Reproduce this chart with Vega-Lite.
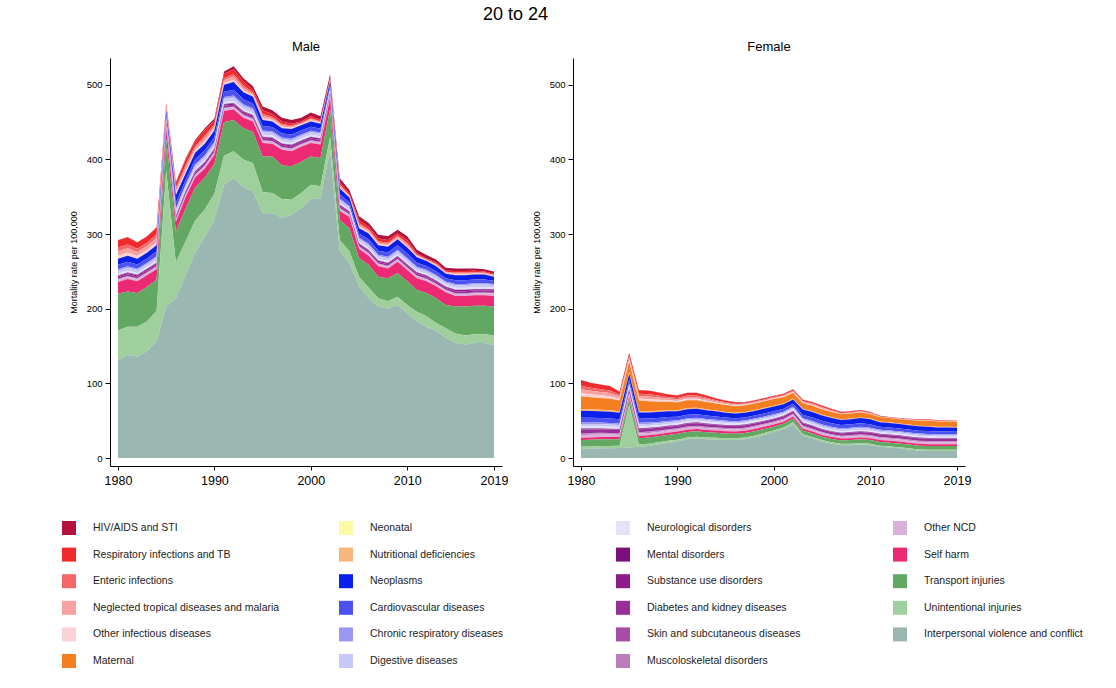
{
  "$schema": "https://vega.github.io/schema/vega-lite/v6.json",
  "description": "Mortality rate per 100,000 by cause, ages 20 to 24, male and female, 1980-2019",
  "padding": {"left": 62, "top": 6, "right": 10, "bottom": 10},
  "title": {"text": "20 to 24", "fontSize": 18, "fontWeight": "normal", "font": "Liberation Sans", "color": "#000", "anchor": "middle", "offset": 17, "dx": -57},
  "config": {
    "view": {"stroke": null},
    "font": "Liberation Sans",
    "axis": {"domainColor": "#000", "tickColor": "#000", "labelColor": "#000", "titleColor": "#000", "grid": false, "labelFont": "Liberation Sans", "titleFont": "Liberation Sans"}
  },
  "datasets": {
    "causes": [
      {"code": "a", "cause": "HIV/AIDS and STI", "ord": 23},
      {"code": "b", "cause": "Respiratory infections and TB", "ord": 22},
      {"code": "c", "cause": "Enteric infections", "ord": 21},
      {"code": "d", "cause": "Neglected tropical diseases and malaria", "ord": 20},
      {"code": "e", "cause": "Other infectious diseases", "ord": 19},
      {"code": "f", "cause": "Maternal", "ord": 18},
      {"code": "h", "cause": "Nutritional deficiencies", "ord": 16},
      {"code": "i", "cause": "Neoplasms", "ord": 15},
      {"code": "j", "cause": "Cardiovascular diseases", "ord": 14},
      {"code": "k", "cause": "Chronic respiratory diseases", "ord": 13},
      {"code": "l", "cause": "Digestive diseases", "ord": 12},
      {"code": "m", "cause": "Neurological disorders", "ord": 11},
      {"code": "n", "cause": "Mental disorders", "ord": 10},
      {"code": "o", "cause": "Substance use disorders", "ord": 9},
      {"code": "p", "cause": "Diabetes and kidney diseases", "ord": 8},
      {"code": "q", "cause": "Skin and subcutaneous diseases", "ord": 7},
      {"code": "r", "cause": "Muscoloskeletal disorders", "ord": 6},
      {"code": "s", "cause": "Other NCD", "ord": 5},
      {"code": "t", "cause": "Self harm", "ord": 4},
      {"code": "u", "cause": "Transport injuries", "ord": 3},
      {"code": "v", "cause": "Unintentional injuries", "ord": 2},
      {"code": "w", "cause": "Interpersonal violence and conflict", "ord": 1}
    ]
  },
  "data": {
    "values": [
      {"year":1980,"sex":"Male","a":0.2,"b":9.7,"c":4.9,"d":6.1,"e":3.6,"f":0,"h":0.5,"i":8,"j":6,"k":2,"l":4,"m":2.4,"n":0.6,"o":1.7,"p":2.4,"q":0.3,"r":0.7,"s":2.9,"t":16,"u":49,"v":40,"w":131},
      {"year":1981,"sex":"Male","a":0.2,"b":9.7,"c":4.9,"d":6.1,"e":3.6,"f":0,"h":0.5,"i":8,"j":6,"k":2,"l":4,"m":2.4,"n":0.6,"o":1.7,"p":2.4,"q":0.3,"r":0.7,"s":2.9,"t":17,"u":47,"v":38,"w":138},
      {"year":1982,"sex":"Male","a":0.2,"b":8.5,"c":4.3,"d":5.3,"e":3.2,"f":0,"h":0.5,"i":7.6,"j":5.7,"k":1.9,"l":3.8,"m":2.4,"n":0.6,"o":1.7,"p":2.4,"q":0.3,"r":0.7,"s":2.9,"t":16,"u":45,"v":40,"w":136},
      {"year":1983,"sex":"Male","a":0.2,"b":8.5,"c":4.3,"d":5.3,"e":3.2,"f":0,"h":0.5,"i":7.6,"j":5.7,"k":1.9,"l":3.8,"m":2.4,"n":0.6,"o":1.7,"p":2.4,"q":0.3,"r":0.7,"s":2.9,"t":16,"u":46,"v":40,"w":143},
      {"year":1984,"sex":"Male","a":0.2,"b":9.3,"c":4.7,"d":5.8,"e":3.5,"f":0,"h":0.5,"i":8.4,"j":6.3,"k":2.1,"l":4.2,"m":2.4,"n":0.6,"o":1.7,"p":2.4,"q":0.3,"r":0.7,"s":2.9,"t":14,"u":42,"v":41,"w":156},
      {"year":1985,"sex":"Male","a":0.5,"b":3.6,"c":1.8,"d":2.3,"e":1.3,"f":0,"h":0.5,"i":5.6,"j":4.2,"k":1.4,"l":2.8,"m":2.2,"n":0.5,"o":1.5,"p":2.2,"q":0.3,"r":0.6,"s":2.7,"t":14,"u":43,"v":182,"w":203},
      {"year":1986,"sex":"Male","a":1,"b":6.6,"c":3.3,"d":4.1,"e":2.5,"f":0,"h":0.5,"i":10,"j":7.5,"k":2.5,"l":5,"m":2.4,"n":0.6,"o":1.7,"p":2.4,"q":0.3,"r":0.7,"s":2.9,"t":12,"u":42,"v":48,"w":214},
      {"year":1987,"sex":"Male","a":1.5,"b":7.2,"c":3.6,"d":4.5,"e":2.7,"f":0,"h":0.5,"i":8.4,"j":6.3,"k":2.1,"l":4.2,"m":2.4,"n":0.6,"o":1.7,"p":2.4,"q":0.3,"r":0.7,"s":2.9,"t":15,"u":44,"v":45,"w":245},
      {"year":1988,"sex":"Male","a":2,"b":5.8,"c":2.9,"d":3.6,"e":2.2,"f":0,"h":0.5,"i":8.8,"j":6.6,"k":2.2,"l":4.4,"m":2.4,"n":0.6,"o":1.7,"p":2.4,"q":0.3,"r":0.7,"s":2.9,"t":14,"u":44,"v":43,"w":275},
      {"year":1989,"sex":"Male","a":2.5,"b":7.2,"c":3.6,"d":4.5,"e":2.7,"f":0,"h":0.5,"i":8.8,"j":6.6,"k":2.2,"l":4.4,"m":2.4,"n":0.6,"o":1.7,"p":2.4,"q":0.3,"r":0.7,"s":2.9,"t":12,"u":43,"v":37,"w":296},
      {"year":1990,"sex":"Male","a":3,"b":5,"c":2.5,"d":3.1,"e":1.9,"f":0,"h":0.5,"i":8.8,"j":6.6,"k":2.2,"l":4.4,"m":2.4,"n":0.6,"o":1.7,"p":2.4,"q":0.3,"r":0.7,"s":2.9,"t":12,"u":40,"v":34,"w":320},
      {"year":1991,"sex":"Male","a":3.5,"b":5.6,"c":2.8,"d":3.5,"e":2.1,"f":0,"h":0.5,"i":9.2,"j":6.9,"k":2.3,"l":4.6,"m":2.6,"n":0.6,"o":1.8,"p":2.6,"q":0.4,"r":0.7,"s":3.3,"t":15,"u":45,"v":39,"w":366},
      {"year":1992,"sex":"Male","a":4,"b":6.6,"c":3.3,"d":4.1,"e":2.5,"f":0,"h":0.5,"i":10.4,"j":7.8,"k":2.6,"l":5.2,"m":2.4,"n":0.6,"o":1.7,"p":2.4,"q":0.3,"r":0.7,"s":2.9,"t":14,"u":42,"v":36,"w":375},
      {"year":1993,"sex":"Male","a":4,"b":5.8,"c":2.9,"d":3.6,"e":2.2,"f":0,"h":0.5,"i":9.2,"j":6.9,"k":2.3,"l":4.6,"m":2.4,"n":0.6,"o":1.7,"p":2.4,"q":0.3,"r":0.7,"s":2.9,"t":14,"u":42,"v":37,"w":363},
      {"year":1994,"sex":"Male","a":4.5,"b":3.6,"c":1.8,"d":2.3,"e":1.3,"f":0,"h":0.5,"i":8.8,"j":6.6,"k":2.2,"l":4.4,"m":2.4,"n":0.6,"o":1.7,"p":2.4,"q":0.3,"r":0.7,"s":2.9,"t":14,"u":42,"v":38,"w":357},
      {"year":1995,"sex":"Male","a":5,"b":5,"c":2.5,"d":3.1,"e":1.9,"f":0,"h":0.5,"i":8,"j":6,"k":2,"l":4,"m":2.4,"n":0.6,"o":1.7,"p":2.4,"q":0.3,"r":0.7,"s":2.9,"t":18,"u":48,"v":28,"w":328},
      {"year":1996,"sex":"Male","a":5,"b":3.8,"c":1.9,"d":2.4,"e":1.4,"f":0,"h":0.5,"i":7.6,"j":5.7,"k":1.9,"l":3.8,"m":2.4,"n":0.6,"o":1.7,"p":2.4,"q":0.3,"r":0.7,"s":2.9,"t":17,"u":49,"v":27,"w":328},
      {"year":1997,"sex":"Male","a":5,"b":3.4,"c":1.7,"d":2.1,"e":1.3,"f":0,"h":0.5,"i":7.2,"j":5.4,"k":1.8,"l":3.6,"m":2.4,"n":0.6,"o":1.7,"p":2.4,"q":0.3,"r":0.7,"s":2.9,"t":21,"u":45,"v":25,"w":322},
      {"year":1998,"sex":"Male","a":5,"b":2.6,"c":1.3,"d":1.6,"e":1,"f":0,"h":0.5,"i":7.6,"j":5.7,"k":1.9,"l":3.8,"m":2.4,"n":0.6,"o":1.7,"p":2.4,"q":0.3,"r":0.7,"s":2.9,"t":20,"u":45,"v":20,"w":326},
      {"year":1999,"sex":"Male","a":5,"b":1.8,"c":0.9,"d":1.1,"e":0.7,"f":0,"h":0.5,"i":7.2,"j":5.4,"k":1.8,"l":3.6,"m":2.4,"n":0.6,"o":1.7,"p":2.4,"q":0.3,"r":0.7,"s":2.9,"t":20,"u":42,"v":20,"w":335},
      {"year":2000,"sex":"Male","a":5,"b":2.6,"c":1.3,"d":1.6,"e":1,"f":0,"h":0.5,"i":7.2,"j":5.4,"k":1.8,"l":3.6,"m":2.4,"n":0.6,"o":1.7,"p":2.4,"q":0.3,"r":0.7,"s":2.9,"t":18,"u":38,"v":19,"w":347},
      {"year":2001,"sex":"Male","a":5,"b":1.8,"c":0.9,"d":1.1,"e":0.7,"f":0,"h":0.5,"i":6.8,"j":5.1,"k":1.7,"l":3.4,"m":2.4,"n":0.6,"o":1.7,"p":2.4,"q":0.3,"r":0.7,"s":2.9,"t":18,"u":38,"v":16,"w":348},
      {"year":2002,"sex":"Male","a":5,"b":1.4,"c":0.7,"d":0.9,"e":0.5,"f":0,"h":0.5,"i":5.2,"j":3.9,"k":1.3,"l":2.6,"m":2.2,"n":0.5,"o":1.5,"p":2.2,"q":0.3,"r":0.6,"s":2.7,"t":14,"u":38,"v":17,"w":413},
      {"year":2003,"sex":"Male","a":5,"b":3.4,"c":1.7,"d":2.1,"e":1.3,"f":0,"h":0.5,"i":7.6,"j":5.7,"k":1.9,"l":3.8,"m":2.4,"n":0.6,"o":1.7,"p":2.4,"q":0.3,"r":0.7,"s":2.9,"t":12,"u":27,"v":15,"w":277},
      {"year":2004,"sex":"Male","a":5,"b":1.8,"c":0.9,"d":1.1,"e":0.7,"f":0,"h":0.5,"i":6.4,"j":4.8,"k":1.6,"l":3.2,"m":2.2,"n":0.5,"o":1.5,"p":2.2,"q":0.3,"r":0.6,"s":2.7,"t":15,"u":31,"v":16,"w":261},
      {"year":2005,"sex":"Male","a":5,"b":4.2,"c":2.1,"d":2.6,"e":1.6,"f":0,"h":0.5,"i":7.2,"j":5.4,"k":1.8,"l":3.6,"m":2.2,"n":0.5,"o":1.5,"p":2.2,"q":0.3,"r":0.6,"s":2.7,"t":12,"u":25,"v":13,"w":230},
      {"year":2006,"sex":"Male","a":5,"b":3.4,"c":1.7,"d":2.1,"e":1.3,"f":0,"h":0.5,"i":8,"j":6,"k":2,"l":4,"m":2.2,"n":0.5,"o":1.5,"p":2.2,"q":0.3,"r":0.6,"s":2.7,"t":12,"u":31,"v":14,"w":214},
      {"year":2007,"sex":"Male","a":5,"b":3.4,"c":1.7,"d":2.1,"e":1.3,"f":0,"h":0.5,"i":7.2,"j":5.4,"k":1.8,"l":3.6,"m":2.2,"n":0.5,"o":1.5,"p":2.2,"q":0.3,"r":0.6,"s":2.7,"t":14,"u":29,"v":11,"w":203},
      {"year":2008,"sex":"Male","a":5,"b":3.4,"c":1.7,"d":2.1,"e":1.3,"f":0,"h":0.5,"i":7.6,"j":5.7,"k":1.9,"l":3.8,"m":2.2,"n":0.5,"o":1.5,"p":2.2,"q":0.3,"r":0.6,"s":2.7,"t":13,"u":31,"v":10,"w":200},
      {"year":2009,"sex":"Male","a":5,"b":3,"c":1.5,"d":1.9,"e":1.1,"f":0,"h":0.5,"i":8,"j":6,"k":2,"l":4,"m":2.2,"n":0.5,"o":1.5,"p":2.2,"q":0.3,"r":0.6,"s":2.7,"t":15,"u":32,"v":11,"w":205},
      {"year":2010,"sex":"Male","a":5,"b":3.8,"c":1.9,"d":2.4,"e":1.4,"f":0,"h":0.5,"i":8,"j":6,"k":2,"l":4,"m":2.2,"n":0.5,"o":1.5,"p":2.2,"q":0.3,"r":0.6,"s":2.7,"t":15,"u":32,"v":11,"w":194},
      {"year":2011,"sex":"Male","a":4.5,"b":2,"c":1,"d":1.3,"e":0.7,"f":0,"h":0.5,"i":7.2,"j":5.4,"k":1.8,"l":3.6,"m":2.2,"n":0.5,"o":1.5,"p":2.2,"q":0.3,"r":0.6,"s":2.7,"t":16,"u":29,"v":13,"w":183},
      {"year":2012,"sex":"Male","a":4.5,"b":1.2,"c":0.6,"d":0.8,"e":0.4,"f":0,"h":0.5,"i":6.8,"j":5.1,"k":1.7,"l":3.4,"m":2.2,"n":0.5,"o":1.5,"p":2.2,"q":0.3,"r":0.6,"s":2.7,"t":16,"u":31,"v":14,"w":176},
      {"year":2013,"sex":"Male","a":4,"b":1.8,"c":0.9,"d":1.1,"e":0.7,"f":0,"h":0.5,"i":6.8,"j":5.1,"k":1.7,"l":3.4,"m":2.2,"n":0.5,"o":1.5,"p":2.2,"q":0.3,"r":0.6,"s":2.7,"t":16,"u":33,"v":11,"w":170},
      {"year":2014,"sex":"Male","a":4,"b":1.4,"c":0.7,"d":0.9,"e":0.5,"f":0,"h":0.5,"i":6,"j":4.5,"k":1.5,"l":3,"m":2.2,"n":0.5,"o":1.5,"p":2.2,"q":0.3,"r":0.6,"s":2.7,"t":17,"u":31,"v":13,"w":161},
      {"year":2015,"sex":"Male","a":3.5,"b":2,"c":1,"d":1.3,"e":0.7,"f":0,"h":0.5,"i":6.8,"j":5.1,"k":1.7,"l":3.4,"m":2.4,"n":0.6,"o":1.7,"p":2.4,"q":0.3,"r":0.7,"s":2.9,"t":14,"u":36,"v":13,"w":154},
      {"year":2016,"sex":"Male","a":3.5,"b":2,"c":1,"d":1.3,"e":0.7,"f":0,"h":0.5,"i":6.8,"j":5.1,"k":1.7,"l":3.4,"m":2.4,"n":0.6,"o":1.7,"p":2.4,"q":0.3,"r":0.7,"s":2.9,"t":14,"u":39,"v":12,"w":152},
      {"year":2017,"sex":"Male","a":3,"b":1.8,"c":0.9,"d":1.1,"e":0.7,"f":0,"h":0.5,"i":6.8,"j":5.1,"k":1.7,"l":3.4,"m":2.4,"n":0.6,"o":1.7,"p":2.4,"q":0.3,"r":0.7,"s":2.9,"t":14,"u":38,"v":12,"w":154},
      {"year":2018,"sex":"Male","a":3,"b":1.4,"c":0.7,"d":0.9,"e":0.5,"f":0,"h":0.5,"i":6.8,"j":5.1,"k":1.7,"l":3.4,"m":2.4,"n":0.6,"o":1.7,"p":2.4,"q":0.3,"r":0.7,"s":2.9,"t":14,"u":38,"v":12,"w":154},
      {"year":2019,"sex":"Male","a":3,"b":1.4,"c":0.7,"d":0.9,"e":0.5,"f":0,"h":0.5,"i":5.6,"j":4.2,"k":1.4,"l":2.8,"m":2.6,"n":0.6,"o":1.8,"p":2.6,"q":0.4,"r":0.7,"s":3.3,"t":14,"u":39,"v":13,"w":151},
      {"year":1980,"sex":"Female","a":0.1,"b":7.7,"c":4.4,"d":5.5,"e":4.3,"f":16.7,"h":2.3,"i":9.5,"j":6.3,"k":2.1,"l":3.1,"m":3.1,"n":0.8,"o":0.8,"p":4.7,"q":0.8,"r":1.5,"s":3.8,"t":3,"u":9,"v":3,"w":12},
      {"year":1981,"sex":"Female","a":0.1,"b":6.8,"c":3.9,"d":4.8,"e":3.9,"f":16.3,"h":2.2,"i":9.2,"j":6.2,"k":2,"l":3.1,"m":3,"n":0.8,"o":0.8,"p":4.5,"q":0.7,"r":1.5,"s":3.7,"t":3,"u":9,"v":3,"w":12.5},
      {"year":1982,"sex":"Female","a":0.1,"b":6.3,"c":3.6,"d":4.4,"e":3.6,"f":15.8,"h":2.2,"i":9,"j":6,"k":2,"l":3,"m":2.9,"n":0.7,"o":0.7,"p":4.4,"q":0.7,"r":1.5,"s":3.6,"t":3,"u":9,"v":3,"w":13},
      {"year":1983,"sex":"Female","a":0.1,"b":5.9,"c":3.4,"d":4.2,"e":3.4,"f":15.4,"h":2.1,"i":9,"j":6,"k":2,"l":3,"m":2.8,"n":0.7,"o":0.7,"p":4.2,"q":0.7,"r":1.4,"s":3.5,"t":3,"u":9,"v":3,"w":13},
      {"year":1984,"sex":"Female","a":0.1,"b":4.2,"c":2.4,"d":3,"e":2.3,"f":14.5,"h":2,"i":8.6,"j":5.7,"k":1.9,"l":2.8,"m":2.7,"n":0.7,"o":0.7,"p":4.1,"q":0.7,"r":1.3,"s":3.3,"t":3,"u":8.5,"v":3,"w":13.5},
      {"year":1985,"sex":"Female","a":0.1,"b":4.2,"c":2.4,"d":3,"e":2.3,"f":14.1,"h":1.9,"i":7.9,"j":5.2,"k":1.8,"l":2.6,"m":2.6,"n":0.7,"o":0.7,"p":3.9,"q":0.6,"r":1.3,"s":3.2,"t":3,"u":8.5,"v":57,"w":14},
      {"year":1986,"sex":"Female","a":0.1,"b":4.9,"c":2.8,"d":3.4,"e":2.8,"f":14.1,"h":1.9,"i":8.3,"j":5.6,"k":1.8,"l":2.8,"m":2.6,"n":0.7,"o":0.7,"p":3.9,"q":0.6,"r":1.3,"s":3.2,"t":3,"u":8.5,"v":3,"w":15},
      {"year":1987,"sex":"Female","a":0.1,"b":5,"c":2.9,"d":3.6,"e":2.9,"f":13.2,"h":1.8,"i":8.1,"j":5.4,"k":1.8,"l":2.7,"m":2.5,"n":0.6,"o":0.6,"p":3.8,"q":0.6,"r":1.3,"s":3.1,"t":3,"u":8.5,"v":3,"w":16},
      {"year":1988,"sex":"Female","a":0.1,"b":4.3,"c":2.5,"d":3.1,"e":2.5,"f":12.3,"h":1.7,"i":7.9,"j":5.2,"k":1.8,"l":2.6,"m":2.4,"n":0.6,"o":0.6,"p":3.6,"q":0.6,"r":1.2,"s":3,"t":3,"u":8,"v":3,"w":18},
      {"year":1989,"sex":"Female","a":0.2,"b":3.4,"c":2,"d":2.4,"e":2,"f":11.4,"h":1.6,"i":7.7,"j":5.1,"k":1.7,"l":2.5,"m":2.3,"n":0.6,"o":0.6,"p":3.5,"q":0.6,"r":1.1,"s":2.8,"t":3,"u":8,"v":3,"w":20},
      {"year":1990,"sex":"Female","a":0.3,"b":3.2,"c":1.8,"d":2.4,"e":1.8,"f":10.6,"h":1.4,"i":7.2,"j":4.8,"k":1.6,"l":2.4,"m":2.2,"n":0.6,"o":0.6,"p":3.3,"q":0.5,"r":1.1,"s":2.7,"t":3,"u":8,"v":2.5,"w":22},
      {"year":1991,"sex":"Female","a":0.3,"b":3.4,"c":1.9,"d":2.5,"e":1.9,"f":10.6,"h":1.4,"i":7.4,"j":5,"k":1.6,"l":2.5,"m":2.2,"n":0.6,"o":0.6,"p":3.3,"q":0.5,"r":1.1,"s":2.7,"t":3,"u":7.5,"v":2.5,"w":25},
      {"year":1992,"sex":"Female","a":0.3,"b":3.4,"c":1.9,"d":2.5,"e":1.9,"f":10.1,"h":1.4,"i":7.2,"j":4.8,"k":1.6,"l":2.4,"m":2.2,"n":0.6,"o":0.6,"p":3.3,"q":0.5,"r":1.1,"s":2.7,"t":3,"u":7.5,"v":2.5,"w":26},
      {"year":1993,"sex":"Female","a":0.3,"b":3,"c":1.7,"d":2.3,"e":1.7,"f":9.7,"h":1.3,"i":7,"j":4.6,"k":1.6,"l":2.3,"m":2.2,"n":0.6,"o":0.6,"p":3.3,"q":0.5,"r":1.1,"s":2.7,"t":3,"u":7,"v":2.5,"w":25},
      {"year":1994,"sex":"Female","a":0.4,"b":2.3,"c":1.3,"d":1.7,"e":1.3,"f":9.2,"h":1.3,"i":6.8,"j":4.5,"k":1.5,"l":2.2,"m":2.1,"n":0.5,"o":0.5,"p":3.2,"q":0.5,"r":1,"s":2.7,"t":3,"u":7,"v":2.5,"w":24.5},
      {"year":1995,"sex":"Female","a":0.4,"b":2,"c":1.1,"d":1.4,"e":1.1,"f":9.2,"h":1.3,"i":6.3,"j":4.2,"k":1.4,"l":2.1,"m":2.1,"n":0.5,"o":0.5,"p":3.2,"q":0.5,"r":1,"s":2.7,"t":3,"u":6.5,"v":2.5,"w":24},
      {"year":1996,"sex":"Female","a":0.4,"b":1.8,"c":1,"d":1.3,"e":1,"f":8.8,"h":1.2,"i":6.1,"j":4,"k":1.4,"l":2,"m":2.1,"n":0.5,"o":0.5,"p":3.2,"q":0.5,"r":1,"s":2.7,"t":3,"u":6,"v":2.5,"w":24},
      {"year":1997,"sex":"Female","a":0.5,"b":1.4,"c":0.8,"d":1,"e":0.8,"f":8.8,"h":1.2,"i":6.1,"j":4,"k":1.4,"l":2,"m":2.1,"n":0.5,"o":0.5,"p":3.2,"q":0.5,"r":1,"s":2.7,"t":3,"u":6,"v":2.5,"w":25},
      {"year":1998,"sex":"Female","a":0.5,"b":1.4,"c":0.8,"d":1,"e":0.8,"f":8.8,"h":1.2,"i":6.1,"j":4,"k":1.4,"l":2,"m":2.1,"n":0.5,"o":0.5,"p":3.2,"q":0.5,"r":1,"s":2.7,"t":3,"u":6,"v":2.5,"w":27.5},
      {"year":1999,"sex":"Female","a":0.5,"b":1.4,"c":0.8,"d":1,"e":0.8,"f":8.8,"h":1.2,"i":6.3,"j":4.2,"k":1.4,"l":2.1,"m":2,"n":0.5,"o":0.5,"p":3,"q":0.5,"r":1,"s":2.5,"t":3,"u":5.5,"v":2.5,"w":31},
      {"year":2000,"sex":"Female","a":0.5,"b":1.4,"c":0.8,"d":1,"e":0.8,"f":8.8,"h":1.2,"i":6.3,"j":4.2,"k":1.4,"l":2.1,"m":2,"n":0.5,"o":0.5,"p":3,"q":0.5,"r":1,"s":2.5,"t":3,"u":5,"v":2,"w":35},
      {"year":2001,"sex":"Female","a":0.5,"b":1.4,"c":0.8,"d":1,"e":0.8,"f":8.4,"h":1.1,"i":6.1,"j":4,"k":1.4,"l":2,"m":2,"n":0.5,"o":0.5,"p":3,"q":0.5,"r":1,"s":2.5,"t":2.5,"u":5,"v":2,"w":39},
      {"year":2002,"sex":"Female","a":0.5,"b":1.4,"c":0.8,"d":1,"e":0.8,"f":7.9,"h":1.1,"i":5.9,"j":3.9,"k":1.3,"l":1.9,"m":2,"n":0.5,"o":0.5,"p":3,"q":0.5,"r":1,"s":2.5,"t":2.5,"u":5,"v":3,"w":45},
      {"year":2003,"sex":"Female","a":0.5,"b":1.6,"c":0.9,"d":1.1,"e":0.9,"f":7.5,"h":1,"i":7,"j":4.6,"k":1.6,"l":2.3,"m":2,"n":0.5,"o":0.5,"p":3,"q":0.5,"r":1,"s":2.5,"t":2.5,"u":5,"v":2,"w":30},
      {"year":2004,"sex":"Female","a":0.5,"b":1.6,"c":0.9,"d":1.1,"e":0.9,"f":7.5,"h":1,"i":7.2,"j":4.8,"k":1.6,"l":2.4,"m":2,"n":0.5,"o":0.5,"p":3,"q":0.5,"r":1,"s":2.5,"t":2.5,"u":5,"v":2,"w":26},
      {"year":2005,"sex":"Female","a":0.5,"b":1.8,"c":1,"d":1.2,"e":1,"f":7,"h":1,"i":7.2,"j":4.8,"k":1.6,"l":2.4,"m":2,"n":0.5,"o":0.5,"p":3,"q":0.5,"r":1,"s":2.5,"t":2.5,"u":4.5,"v":2,"w":22},
      {"year":2006,"sex":"Female","a":0.5,"b":1.4,"c":0.8,"d":1,"e":0.8,"f":7,"h":1,"i":7,"j":4.6,"k":1.6,"l":2.3,"m":2,"n":0.5,"o":0.5,"p":3,"q":0.5,"r":1,"s":2.5,"t":2.5,"u":4.5,"v":2,"w":19},
      {"year":2007,"sex":"Female","a":0.5,"b":1.1,"c":0.6,"d":0.7,"e":0.6,"f":6.6,"h":0.9,"i":6.8,"j":4.5,"k":1.5,"l":2.2,"m":2,"n":0.5,"o":0.5,"p":3,"q":0.5,"r":1,"s":2.5,"t":2.5,"u":4.5,"v":2,"w":17},
      {"year":2008,"sex":"Female","a":0.5,"b":1.1,"c":0.6,"d":0.7,"e":0.6,"f":6.6,"h":0.9,"i":6.8,"j":4.5,"k":1.5,"l":2.2,"m":2.1,"n":0.5,"o":0.5,"p":3.2,"q":0.5,"r":1,"s":2.7,"t":2.5,"u":5,"v":2,"w":17},
      {"year":2009,"sex":"Female","a":0.5,"b":1.1,"c":0.6,"d":0.7,"e":0.6,"f":6.6,"h":0.9,"i":7,"j":4.6,"k":1.6,"l":2.3,"m":2.1,"n":0.5,"o":0.5,"p":3.2,"q":0.5,"r":1,"s":2.7,"t":2.5,"u":5,"v":2,"w":18},
      {"year":2010,"sex":"Female","a":0.4,"b":0.9,"c":0.5,"d":0.7,"e":0.5,"f":6.2,"h":0.8,"i":6.8,"j":4.5,"k":1.5,"l":2.2,"m":2.1,"n":0.5,"o":0.5,"p":3.2,"q":0.5,"r":1,"s":2.7,"t":2.5,"u":5,"v":2,"w":17},
      {"year":2011,"sex":"Female","a":0.4,"b":0.6,"c":0.3,"d":0.4,"e":0.3,"f":5.7,"h":0.8,"i":6.1,"j":4,"k":1.4,"l":2,"m":2.1,"n":0.5,"o":0.5,"p":3.2,"q":0.5,"r":1,"s":2.7,"t":2.5,"u":5,"v":1.5,"w":15},
      {"year":2012,"sex":"Female","a":0.3,"b":0.4,"c":0.2,"d":0.3,"e":0.3,"f":5.7,"h":0.8,"i":6.1,"j":4,"k":1.4,"l":2,"m":2.1,"n":0.5,"o":0.5,"p":3.2,"q":0.5,"r":1,"s":2.7,"t":2.5,"u":5,"v":1.5,"w":14},
      {"year":2013,"sex":"Female","a":0.3,"b":0.4,"c":0.2,"d":0.3,"e":0.3,"f":5.7,"h":0.8,"i":5.9,"j":3.9,"k":1.3,"l":1.9,"m":2.1,"n":0.5,"o":0.5,"p":3.2,"q":0.5,"r":1,"s":2.7,"t":2.5,"u":5,"v":1.5,"w":13},
      {"year":2014,"sex":"Female","a":0.3,"b":0.4,"c":0.2,"d":0.3,"e":0.3,"f":6.2,"h":0.8,"i":5.9,"j":3.9,"k":1.3,"l":1.9,"m":2.1,"n":0.5,"o":0.5,"p":3.2,"q":0.5,"r":1,"s":2.7,"t":2.5,"u":5,"v":1.5,"w":11.5},
      {"year":2015,"sex":"Female","a":0.3,"b":0.6,"c":0.3,"d":0.4,"e":0.4,"f":6.6,"h":0.9,"i":5.9,"j":3.9,"k":1.3,"l":1.9,"m":2.1,"n":0.5,"o":0.5,"p":3.2,"q":0.5,"r":1,"s":2.7,"t":2.5,"u":5,"v":1.5,"w":10},
      {"year":2016,"sex":"Female","a":0.3,"b":0.6,"c":0.3,"d":0.4,"e":0.4,"f":7,"h":1,"i":5.9,"j":3.9,"k":1.3,"l":1.9,"m":2.1,"n":0.5,"o":0.5,"p":3.2,"q":0.5,"r":1,"s":2.7,"t":2.5,"u":5,"v":1.5,"w":9.5},
      {"year":2017,"sex":"Female","a":0.3,"b":0.6,"c":0.3,"d":0.4,"e":0.4,"f":7,"h":1,"i":5.6,"j":3.8,"k":1.2,"l":1.9,"m":2,"n":0.5,"o":0.5,"p":3,"q":0.5,"r":1,"s":2.5,"t":2.5,"u":5,"v":1.5,"w":9.5},
      {"year":2018,"sex":"Female","a":0.3,"b":0.4,"c":0.2,"d":0.3,"e":0.3,"f":7,"h":1,"i":5.6,"j":3.8,"k":1.2,"l":1.9,"m":2,"n":0.5,"o":0.5,"p":3,"q":0.5,"r":1,"s":2.5,"t":2.5,"u":5,"v":1.5,"w":9.5},
      {"year":2019,"sex":"Female","a":0.3,"b":0.4,"c":0.2,"d":0.3,"e":0.3,"f":7,"h":1,"i":5.4,"j":3.6,"k":1.2,"l":1.8,"m":2,"n":0.5,"o":0.5,"p":3,"q":0.5,"r":1,"s":2.5,"t":2.5,"u":5,"v":1.5,"w":9.5}
    ]
  },
  "transform": [
    {"fold": ["a","b","c","d","e","f","h","i","j","k","l","m","n","o","p","q","r","s","t","u","v","w"], "as": ["code", "rate"]},
    {"lookup": "code", "from": {"data": {"name": "causes"}, "key": "code", "fields": ["cause", "ord"]}}
  ],
  "facet": {
    "column": {
      "field": "sex",
      "type": "nominal",
      "sort": ["Male", "Female"],
      "header": {"title": null, "labelFontSize": 13, "labelFont": "Liberation Sans", "labelColor": "#000", "labelPadding": 4}
    }
  },
  "spacing": 71,
  "bounds": "flush",
  "resolve": {"axis": {"y": "independent"}},
  "spec": {
    "width": 392,
    "height": 408,
    "mark": {"type": "area", "opacity": 1, "interpolate": "linear"},
    "encoding": {
      "x": {
        "field": "year",
        "type": "quantitative",
        "scale": {"domain": [1979.17, 2019.83], "nice": false, "zero": false},
        "axis": {"values": [1980, 1990, 2000, 2010, 2019], "format": "d", "title": null, "labelFontSize": 12.5, "tickSize": 4, "labelPadding": 4, "labelFlush": false, "labelOverlap": false}
      },
      "y": {
        "field": "rate",
        "type": "quantitative",
        "stack": "zero",
        "scale": {"domain": [-10.7, 536], "nice": false, "zero": false},
        "axis": {"values": [0, 100, 200, 300, 400, 500], "title": "Mortality rate per 100,000", "titleFontSize": 9, "titleFontWeight": "normal", "labelFontSize": 9.5, "tickSize": 5, "labelPadding": 3, "titlePadding": 8}
      },
      "color": {
        "field": "cause",
        "type": "nominal",
        "scale": {
          "domain": [
            "HIV/AIDS and STI", "Respiratory infections and TB", "Enteric infections", "Neglected tropical diseases and malaria", "Other infectious diseases", "Maternal",
            "Neonatal", "Nutritional deficiencies", "Neoplasms", "Cardiovascular diseases", "Chronic respiratory diseases", "Digestive diseases",
            "Neurological disorders", "Mental disorders", "Substance use disorders", "Diabetes and kidney diseases", "Skin and subcutaneous diseases", "Muscoloskeletal disorders",
            "Other NCD", "Self harm", "Transport injuries", "Unintentional injuries", "Interpersonal violence and conflict"
          ],
          "range": [
            "#b2123b", "#ef2b2d", "#f26868", "#f7a1a1", "#fbd3d6", "#f47f20",
            "#fdf9a6", "#f8b57c", "#0a20e8", "#4b52f2", "#9a98f0", "#c8c8f8",
            "#e2e2fa", "#7b0f7b", "#8c1c8c", "#982e98", "#a74ca7", "#bb7cbb",
            "#dbb0dc", "#ec2a74", "#62a862", "#9fcf9c", "#9bb7b1"
          ]
        },
        "legend": {
          "orient": "none",
          "legendX": -48,
          "legendY": 463,
          "columns": 4,
          "title": null,
          "symbolType": "square",
          "symbolSize": 196,
          "symbolStrokeWidth": 0,
          "symbolOpacity": 1,
          "labelFontSize": 10.5,
          "labelFont": "Liberation Sans",
          "labelColor": "#222",
          "labelOffset": 17,
          "labelLimit": 300,
          "rowPadding": 12.6,
          "columnPadding": 59,
          "gridAlign": "all",
          "padding": 0
        }
      },
      "order": {"field": "ord", "type": "quantitative"},
      "tooltip": [
        {"field": "sex", "type": "nominal"},
        {"field": "year", "type": "quantitative"},
        {"field": "cause", "type": "nominal"},
        {"field": "rate", "type": "quantitative"}
      ]
    }
  }
}
